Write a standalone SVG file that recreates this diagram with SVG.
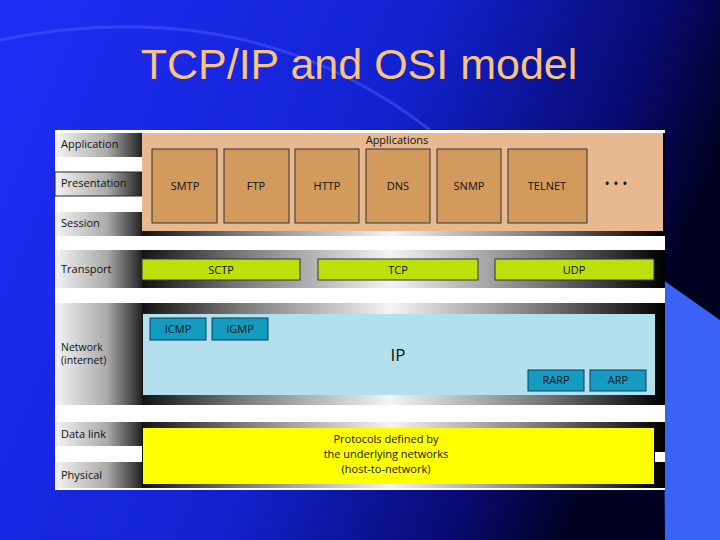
<svg xmlns="http://www.w3.org/2000/svg" width="720" height="540" viewBox="0 0 720 540">
<defs>
<linearGradient id="bg" x1="0" y1="0" x2="1" y2="0.3"><stop offset="0" stop-color="#1f2ef5"/><stop offset="0.55" stop-color="#1222d0"/><stop offset="0.85" stop-color="#070a70"/><stop offset="1" stop-color="#000020"/></linearGradient>
<linearGradient id="band" gradientUnits="userSpaceOnUse" x1="55" y1="0" x2="665" y2="0"><stop offset="0" stop-color="#e8e8e8"/><stop offset="0.07" stop-color="#888"/><stop offset="0.14" stop-color="#111"/><stop offset="0.3" stop-color="#777"/><stop offset="0.55" stop-color="#f4f4f4"/><stop offset="0.8" stop-color="#777"/><stop offset="0.97" stop-color="#111"/><stop offset="1" stop-color="#000"/></linearGradient>
<linearGradient id="lab" gradientUnits="userSpaceOnUse" x1="55" y1="0" x2="142" y2="0"><stop offset="0" stop-color="#f4f4f4"/><stop offset="0.6" stop-color="#aaa"/><stop offset="1" stop-color="#222"/></linearGradient>
</defs>
<style>
text{font-family:"Open Sans","DejaVu Sans",sans-serif;font-size:11px;fill:#111}
.c{text-anchor:middle}
.app{fill:#d39a5e;stroke:#333;stroke-width:1}
.grn{fill:#bde00a;stroke:#333;stroke-width:1}
.ip{fill:#149cc0;stroke:#0a3a60;stroke-width:1}
</style>
<rect width="720" height="540" fill="url(#bg)"/>
<path d="M0 40 Q250 -10 430 130" fill="none" stroke="#4a5cff" stroke-width="3" opacity="0.5"/>
<polygon points="663,280 720,320 720,540 665,540" fill="#3a63f5"/>
<text x="359" y="79" class="c" style="font-family:'Liberation Sans',Arial,sans-serif;font-size:43px;fill:#f8c47e">TCP/IP and OSI model</text>
<rect x="55" y="130" width="610" height="360" fill="#fff"/>
<g id="bands">
<rect x="55" y="133" width="610" height="103" fill="url(#band)"/>
<rect x="55" y="250" width="610" height="38" fill="url(#band)"/>
<rect x="55" y="303" width="610" height="102" fill="url(#band)"/>
<rect x="55" y="422" width="610" height="66" fill="url(#band)"/>
<rect x="55" y="157" width="87" height="15" fill="#fff"/>
<rect x="55" y="196" width="87" height="16" fill="#fff"/>
<rect x="55" y="446" width="87" height="16" fill="#fff"/>
<rect x="655" y="452" width="10" height="10" fill="#fff"/>
<rect x="55" y="133" width="87" height="24" fill="url(#lab)"/>
<rect x="55" y="172" width="87" height="24" fill="url(#lab)" stroke="#222" stroke-width="1"/>
<rect x="55" y="212" width="87" height="24" fill="url(#lab)"/>
<rect x="55" y="250" width="87" height="38" fill="url(#lab)"/>
<rect x="55" y="303" width="87" height="102" fill="url(#lab)"/>
<rect x="55" y="422" width="87" height="24" fill="url(#lab)"/>
<rect x="55" y="462" width="87" height="26" fill="url(#lab)"/>
</g>
<g id="labels">
<text x="61" y="148">Application</text>
<text x="61" y="187">Presentation</text>
<text x="61" y="227">Session</text>
<text x="61" y="273">Transport</text>
<text x="61" y="351" style="font-size:10.5px">Network</text>
<text x="61" y="364" style="font-size:10.5px">(internet)</text>
<text x="61" y="438">Data link</text>
<text x="61" y="479">Physical</text>
</g>
<g id="applications">
<rect x="142" y="133" width="521" height="98" fill="#e8b990"/>
<text x="397" y="144" class="c">Applications</text>
<rect class="app" x="152" y="149" width="65" height="74"/><text x="185" y="190" class="c">SMTP</text>
<rect class="app" x="224" y="149" width="65" height="74"/><text x="256" y="190" class="c">FTP</text>
<rect class="app" x="295" y="149" width="64" height="74"/><text x="327" y="190" class="c">HTTP</text>
<rect class="app" x="366" y="149" width="64" height="74"/><text x="398" y="190" class="c">DNS</text>
<rect class="app" x="437" y="149" width="64" height="74"/><text x="469" y="190" class="c">SNMP</text>
<rect class="app" x="508" y="149" width="79" height="74"/><text x="547" y="190" class="c">TELNET</text>
<text x="616" y="189" class="c" style="font-size:14px">• • •</text>
</g>
<g id="transport">
<rect class="grn" x="142" y="259" width="158" height="21"/><text x="221" y="274" class="c">SCTP</text>
<rect class="grn" x="318" y="259" width="160" height="21"/><text x="398" y="274" class="c">TCP</text>
<rect class="grn" x="495" y="259" width="159" height="21"/><text x="574" y="274" class="c">UDP</text>
</g>
<g id="network">
<rect x="143" y="314" width="512" height="81" fill="#b3e0ec"/>
<rect class="ip" x="150" y="318" width="56" height="22"/><text x="178" y="333" class="c">ICMP</text>
<rect class="ip" x="212" y="318" width="56" height="22"/><text x="240" y="333" class="c">IGMP</text>
<text x="398" y="361" class="c" style="font-size:17px">IP</text>
<rect class="ip" x="528" y="370" width="56" height="21"/><text x="556" y="384" class="c">RARP</text>
<rect class="ip" x="590" y="370" width="56" height="21"/><text x="618" y="384" class="c">ARP</text>
</g>
<g id="datalink">
<rect x="143" y="428" width="511" height="56" fill="#ffff00"/>
<text x="386" y="443" class="c">Protocols defined by</text>
<text x="386" y="458" class="c">the underlying networks</text>
<text x="386" y="473" class="c">(host-to-network)</text>
</g>
</svg>
